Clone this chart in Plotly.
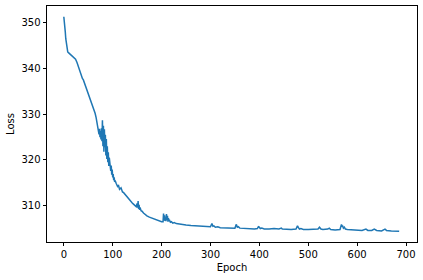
import plotly.graph_objects as go

COLOR = "#1f77b4"

# training loss per epoch
epochs = [
    0, 1, 2, 3, 4, 5, 6, 7, 8, 10, 12, 15, 18, 21, 24, 27, 30, 32, 34, 36, 38, 40,
    43, 46, 50, 53, 56, 59, 62, 64, 66, 68, 70,
    71, 72, 73, 74, 75, 76, 77, 78, 79, 80, 81, 82, 83, 84, 85, 86, 87, 88, 89,
    90, 91, 92, 93, 94, 95, 96, 97, 98, 99, 100, 101, 102, 103, 104, 105,
    107, 110, 112, 114, 117, 120, 122, 125, 128, 131, 134, 137, 140, 143, 146,
    148, 150, 151, 152, 153, 154, 155, 156, 158, 160, 163, 166, 170, 175, 180,
    185, 190, 195, 200, 203, 204, 205, 206, 207, 208, 209, 210, 211, 212, 213,
    214, 215, 216, 218, 220, 223, 226, 230, 235, 240, 250, 260, 270, 280, 290,
    300, 302, 303, 305, 307, 310, 315, 320, 330, 340, 350, 352, 353, 355, 357,
    360, 370, 380, 390, 396, 398, 400, 402, 405, 410, 420, 430, 440, 445, 447,
    455, 465, 475, 478, 480, 482, 485, 490, 500, 510, 520, 523, 526, 530, 540,
    543, 546, 555, 565, 568, 569, 570, 572, 574, 576, 580, 590, 600, 610, 618,
    622, 630, 635, 640, 650, 657, 660, 670, 680, 686,
]
loss = [
    351.3, 350.5, 349.2, 348.0, 346.5, 345.5, 344.5, 343.8, 343.6, 343.4, 343.2,
    343.0, 342.7, 342.4, 342.0, 341.3, 340.3, 339.5, 338.7, 338.1, 337.8, 337.5,
    336.6, 335.6, 334.8, 333.8, 333.0, 332.0, 331.0, 330.2, 329.3, 328.2, 327.2,
    326.5, 325.6, 326.8, 325.0, 326.3, 324.5, 326.9, 324.1, 328.7, 323.0, 327.5,
    321.8, 326.7, 322.8, 325.5, 321.0, 324.6, 320.2, 323.0,
    319.5, 321.7, 318.7, 320.5, 318.6, 319.6, 317.6, 318.8, 316.8, 317.9, 316.2,
    316.9, 315.6, 316.2, 315.2, 315.5,
    314.9, 314.2, 314.4, 313.6, 313.9, 313.0, 312.9, 312.5, 312.2, 311.6, 311.3,
    311.0, 310.6, 310.3, 310.0,
    309.8, 310.5, 309.6, 311.0, 309.3, 310.2, 309.1, 309.6, 308.9, 308.8, 308.4,
    308.1, 307.8, 307.5, 307.3,
    307.0, 306.9, 306.7, 306.5, 306.5, 308.3, 306.8, 307.9, 306.7, 307.4, 306.6,
    308.2, 306.9, 307.8, 306.5,
    307.3, 306.6, 306.9, 306.4, 306.5, 306.2, 306.3, 306.1, 306.0, 305.9, 305.8,
    305.7, 305.6, 305.5, 305.5,
    305.4, 305.9, 306.1, 305.5, 305.6, 305.3, 305.4, 305.2, 305.2, 305.1, 305.1,
    305.7, 305.9, 305.3, 305.4,
    305.1, 305.0, 305.0, 304.9, 305.0, 305.4, 305.3, 305.0, 305.1, 304.9, 304.9,
    305.0, 304.9, 305.1, 304.9,
    304.8, 304.8, 304.9, 305.6, 305.2, 304.9, 305.0, 304.8, 304.8, 304.8, 304.9,
    305.3, 304.9, 304.8, 304.9,
    305.1, 304.8, 304.7, 304.8, 305.9, 305.4, 305.7, 305.1, 305.3, 304.9, 304.8,
    304.7, 304.7, 304.6, 304.9,
    304.6, 304.6, 304.9, 304.6, 304.5, 304.9, 304.6, 304.5, 304.45, 304.4,
]

fig = go.Figure(go.Scatter(x=epochs, y=loss, mode="lines",
                           line=dict(color=COLOR, width=1.5)))

axis_style = dict(showline=True, linecolor="black", linewidth=0.8, mirror=True,
                  ticks="outside", ticklen=3.5, tickwidth=0.8, tickcolor="black",
                  showgrid=False, zeroline=False,
                  tickfont=dict(family="DejaVu Sans", size=10, color="black"))

fig.update_xaxes(range=[-34.4, 722.5], tickvals=[0, 100, 200, 300, 400, 500, 600, 700],
                 title=dict(text="Epoch", standoff=4,
                            font=dict(family="DejaVu Sans", size=10, color="black")),
                 **axis_style)
fig.update_yaxes(range=[302.07, 353.65], tickvals=[310, 320, 330, 340, 350],
                 title=dict(text="Loss", standoff=5,
                            font=dict(family="DejaVu Sans", size=10, color="black")),
                 **axis_style)

fig.update_layout(width=423, height=280, showlegend=False,
                  margin=dict(l=47, r=6, t=6, b=38),
                  paper_bgcolor="white", plot_bgcolor="white")

# drop the default page margin so the plot sits at the window's top-left
fig.write_html("out.html", config={"displayModeBar": False},
               post_script="document.body.style.margin='0';")
